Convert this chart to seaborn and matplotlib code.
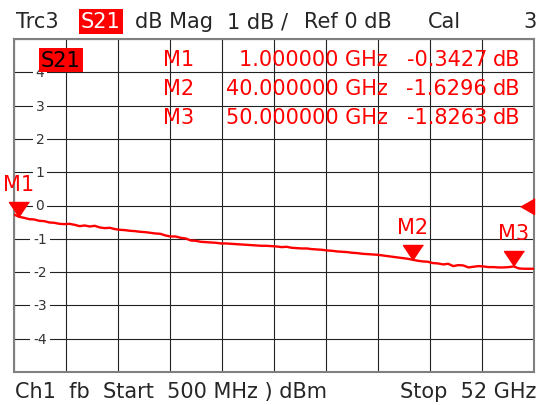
import numpy as np
import pandas as pd
import seaborn as sns
import matplotlib.pyplot as plt
from matplotlib import transforms

# trace data (S21, dB vs frequency in GHz)
freq_ghz = [0.5, 1.0, 1.5, 2.0, 2.5, 3.0, 3.5, 4.0, 4.5, 5.0,
            5.5, 6.0, 6.5, 7.0, 7.5, 8.0, 8.5, 9.0, 9.5, 10.0,
            10.5, 11.0, 11.5, 12.0, 12.5, 13.0, 13.5, 14.0, 14.5, 15.0,
            15.5, 16.0, 16.5, 17.0, 17.5, 18.0, 18.5, 19.0, 19.5, 20.0,
            20.5, 21.0, 21.5, 22.0, 22.5, 23.0, 23.5, 24.0, 24.5, 25.0,
            25.5, 26.0, 26.5, 27.0, 27.5, 28.0, 28.5, 29.0, 29.5, 30.0,
            30.5, 31.0, 31.5, 32.0, 32.5, 33.0, 33.5, 34.0, 34.5, 35.0,
            35.5, 36.0, 36.5, 37.0, 37.5, 38.0, 38.5, 39.0, 39.5, 40.0,
            40.5, 41.0, 41.5, 42.0, 42.5, 43.0, 43.5, 44.0, 44.5, 45.0,
            45.5, 46.0, 46.5, 47.0, 47.5, 48.0, 48.5, 49.0, 49.5, 50.0,
            50.5, 51.0, 51.5, 52.0]
s21_db = [-0.27, -0.34, -0.37, -0.41, -0.42, -0.46, -0.47, -0.51, -0.52, -0.55,
          -0.56, -0.55, -0.58, -0.62, -0.60, -0.63, -0.61, -0.66, -0.68, -0.67,
          -0.71, -0.73, -0.74, -0.76, -0.77, -0.79, -0.80, -0.82, -0.84, -0.85,
          -0.90, -0.93, -0.93, -0.97, -0.99, -1.05, -1.06, -1.09, -1.10, -1.11,
          -1.12, -1.14, -1.14, -1.15, -1.16, -1.17, -1.18, -1.19, -1.20, -1.21,
          -1.21, -1.22, -1.23, -1.25, -1.24, -1.27, -1.28, -1.29, -1.29, -1.31,
          -1.32, -1.33, -1.35, -1.36, -1.38, -1.39, -1.40, -1.42, -1.43, -1.45,
          -1.46, -1.47, -1.48, -1.50, -1.52, -1.54, -1.56, -1.58, -1.60, -1.63,
          -1.66, -1.68, -1.69, -1.73, -1.74, -1.77, -1.75, -1.82, -1.79, -1.80,
          -1.86, -1.84, -1.82, -1.83, -1.85, -1.85, -1.86, -1.86, -1.85, -1.83,
          -1.89, -1.90, -1.90, -1.90]

marker_names = ["M1", "M2", "M3"]
marker_freq = [1.0, 40.0, 50.0]
marker_db = [-0.3427, -1.6296, -1.8263]
marker_freq_text = ["1.000000 GHz", "40.000000 GHz", "50.000000 GHz"]
marker_db_text = ["-0.3427", "-1.6296", "-1.8263"]

y_tick_values = [4, 3, 2, 1, 0, -1, -2, -3, -4]
ref_level = 0

df = pd.DataFrame({"freq": freq_ghz, "s21": s21_db})

sns.set_style("white")
plt.rcParams['font.family'] = ['DejaVu Sans']

RED = "#ff0000"
W, H = 542, 406
fig = plt.figure(figsize=(W / 100, H / 100), dpi=100)
ax = fig.add_axes([14 / W, 1 - 373 / H, 520 / W, 333 / H])


def fx(px):
    return px / W


def fy(py):
    return 1 - py / H


sns.lineplot(data=df, x="freq", y="s21", ax=ax, color=RED, linewidth=1.7, zorder=3)

ax.set_xlim(0.5, 52)
ax.set_ylim(-5, 5)
ax.set_xticks(np.linspace(0.5, 52, 11))
ax.set_yticks(np.arange(-5, 6, 1))
ax.grid(True, color="#222222", linewidth=0.8)
ax.tick_params(length=0, labelbottom=False, labelleft=False)
ax.set_xlabel("")
ax.set_ylabel("")
for s in ax.spines.values():
    s.set_color("#808080")
    s.set_linewidth(1.5)

# y scale labels inside the grid
tr = transforms.blended_transform_factory(ax.transAxes, ax.transData)
for v in y_tick_values:
    ax.text(0.05, v, str(v), transform=tr, ha="center", va="center", fontsize=10,
            color="#333333", zorder=2,
            bbox=dict(boxstyle="square,pad=0.2", fc="white", ec="none"))

# trace label box (top-left corner of the grid)
ax.text(27 / 520, 1 - 21 / 333, "S21", transform=ax.transAxes, ha="left", va="center",
        fontsize=15, color="black", zorder=5,
        bbox=dict(boxstyle="square,pad=0.1", fc=RED, ec="none"))

# marker triangles, tip on the trace
tri_down = [(0, 0), (-1, 1.5), (1, 1.5)]
ax.plot(marker_freq, marker_db, linestyle="none", marker=tri_down, ms=21.6,
        color=RED, clip_on=False, zorder=4)
for name, f, v in zip(marker_names, marker_freq, marker_db):
    ax.annotate(name, (f, v), xytext=(0, 33), textcoords="offset pixels",
                ha="center", va="center", fontsize=15, color=RED,
                annotation_clip=False, zorder=4)

# reference level arrow on right edge
tri_left = [(0, 1), (0, -1), (-1.75, 0)]
ax.plot([52], [ref_level], linestyle="none", marker=tri_left, ms=20,
        color=RED, clip_on=False, zorder=4)

# marker table
rows_y = [60, 89, 118]
for name, ft, dt, yy in zip(marker_names, marker_freq_text, marker_db_text, rows_y):
    fig.text(fx(163), fy(yy), name, ha="left", va="center", fontsize=15, color=RED)
    fig.text(fx(388), fy(yy), ft, ha="right", va="center", fontsize=15, color=RED)
    fig.text(fx(487), fy(yy), dt, ha="right", va="center", fontsize=15, color=RED)
    fig.text(fx(493), fy(yy), "dB", ha="left", va="center", fontsize=15, color=RED)

# header line
hy = fy(22)
fig.text(fx(16), hy, "Trc3", ha="left", va="center", fontsize=15)
fig.text(fx(81), hy, "S21", ha="left", va="center", fontsize=15, color="white",
         bbox=dict(boxstyle="square,pad=0.12", fc=RED, ec="none"))
fig.text(fx(135), hy, "dB Mag", ha="left", va="center", fontsize=15)
fig.text(fx(227), hy, "1 dB /", ha="left", va="center", fontsize=15)
fig.text(fx(304), hy, "Ref 0 dB", ha="left", va="center", fontsize=15)
fig.text(fx(428), hy, "Cal", ha="left", va="center", fontsize=15)
fig.text(fx(523), hy, "3", ha="left", va="center", fontsize=15)

# footer line
by = fy(392)
fig.text(fx(15), by, "Ch1  fb  Start  500 MHz ) dBm", ha="left", va="center", fontsize=15)
fig.text(fx(536), by, "Stop  52 GHz", ha="right", va="center", fontsize=15)

fig.savefig("out.png", dpi=100)
